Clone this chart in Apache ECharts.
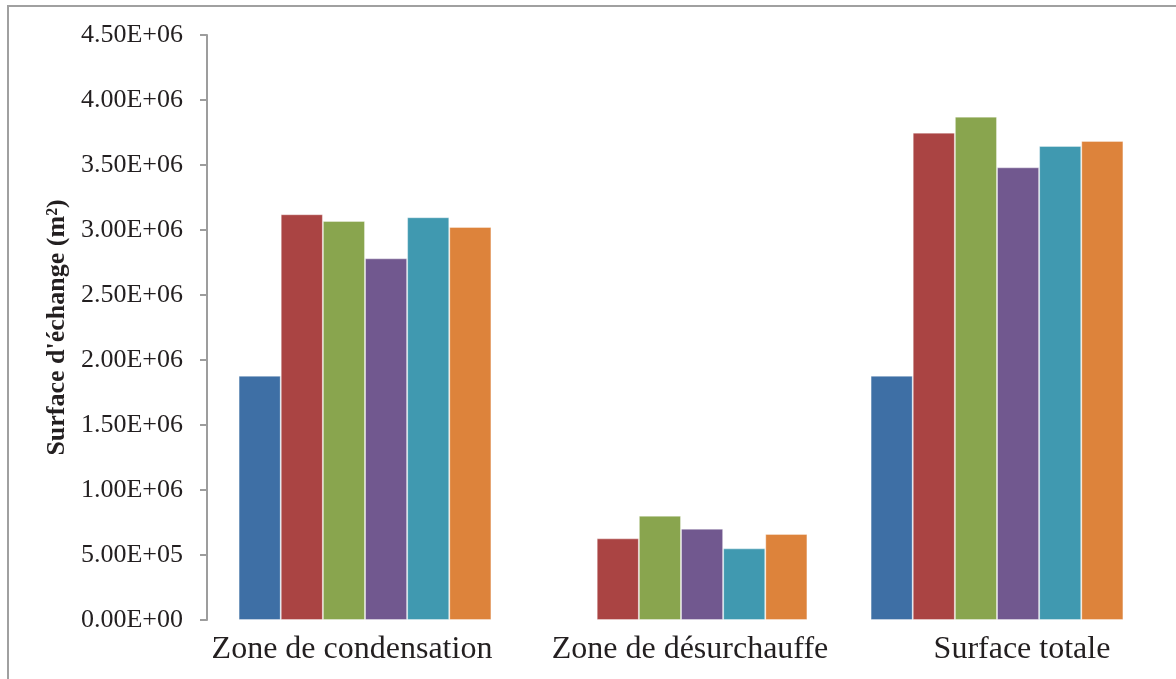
<!DOCTYPE html>
<html>
<head>
<meta charset="utf-8">
<script src="https://cdn.jsdelivr.net/npm/echarts@6/dist/echarts.min.js"></script>
<style>
html,body{margin:0;padding:0;background:#fff;}
#chart{width:1176px;height:679px;}
</style>
</head>
<body>
<div id="chart"></div>
<script>
// ---- data ----
const categories = ['Zone de condensation', 'Zone de désurchauffe', 'Surface totale'];
const seriesNames = ['Série 1', 'Série 2', 'Série 3', 'Série 4', 'Série 5', 'Série 6'];
const s1 = [1.879e6, null, 1.879e6];
const s2 = [3.121e6, 0.628e6, 3.749e6];
const s3 = [3.069e6, 0.802e6, 3.872e6];
const s4 = [2.782e6, 0.702e6, 3.482e6];
const s5 = [3.098e6, 0.551e6, 3.646e6];
const s6 = [3.023e6, 0.662e6, 3.685e6];
const tickLabels = ['0.00E+00','5.00E+05','1.00E+06','1.50E+06','2.00E+06','2.50E+06','3.00E+06','3.50E+06','4.00E+06','4.50E+06'];
const yTitle = "Surface d'échange (m²)";

const colors = ['#3E6FA5', '#AA4443', '#89A54E', '#71588F', '#4099B0', '#DD833B'];
const allSeries = [s1, s2, s3, s4, s5, s6];

// per-category label shifts (Excel places them slightly off-centre)
const labelPads = [[0, 26, 0, 0], [0, 0, 0, 18], [0, 0, 0, 50]];

const chart = echarts.init(document.getElementById('chart'), null, {renderer: 'canvas'});
chart.setOption({
  animation: false,
  backgroundColor: '#ffffff',
  graphic: [{
    type: 'rect',
    shape: {x: 8, y: 6, width: 1300, height: 800},
    style: {fill: 'none', stroke: '#a0a0a0', lineWidth: 2},
    silent: true,
    z: -1
  }],
  grid: {left: 207, right: 21, top: 35, bottom: 59, containLabel: false},
  xAxis: {
    type: 'category',
    data: categories.map((c, i) => ({value: c, textStyle: {padding: labelPads[i]}})),
    axisLine: {show: false},
    axisTick: {show: false},
    axisLabel: {
      margin: 14,
      fontFamily: 'Liberation Serif',
      fontSize: 32,
      color: '#231f20',
      interval: 0
    }
  },
  yAxis: {
    type: 'value',
    min: 0,
    max: 4.5e6,
    interval: 0.5e6,
    name: yTitle,
    nameLocation: 'middle',
    nameGap: 134,
    nameRotate: 90,
    nameTextStyle: {
      fontFamily: 'Liberation Serif',
      fontWeight: 'bold',
      fontSize: 26,
      color: '#231f20'
    },
    axisLine: {show: true, lineStyle: {color: '#9d9d9d', width: 2}},
    axisTick: {show: true, length: 7, inside: false, lineStyle: {color: '#9d9d9d', width: 2}},
    splitLine: {show: false},
    axisLabel: {
      margin: 24,
      fontFamily: 'Liberation Serif',
      fontSize: 26,
      color: '#231f20',
      formatter: function (v) { return tickLabels[Math.round(v / 0.5e6)]; }
    }
  },
  series: allSeries.map((d, i) => ({
    type: 'bar',
    name: seriesNames[i],
    data: d,
    barGap: '0%',
    barCategoryGap: '20%',
    itemStyle: {color: colors[i], borderColor: 'rgba(255,255,255,0.35)', borderWidth: 1}
  }))
});
</script>
</body>
</html>
